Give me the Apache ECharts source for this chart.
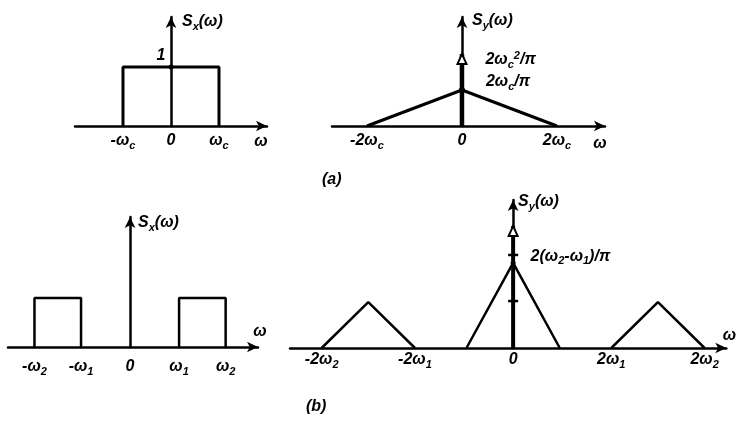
<!DOCTYPE html>
<html>
<head>
<meta charset="utf-8">
<script src="https://cdn.jsdelivr.net/npm/echarts@6/dist/echarts.min.js"></script>
<style>
  html, body { margin: 0; padding: 0; background: #fff; }
  #c { width: 737px; height: 422px; }
</style>
</head>
<body>
<div id="c"></div>
<script>
// (a) ideal low-pass input spectrum and output spectrum (ωc = 2)
const rectA = [[-2, 0], [-2, 1], [2, 1], [2, 0]];
const levelA = [[0, 1]];
const triA = [[-4, 0], [0, 1.273], [4, 0]];
const peakA = [[0, 1.273]];
const impulseA = [[0, 0], [0, 2.546]];
const ticksAL = [-2, 0, 2];
const labelsAL = ['{t|-ω}{b|c}', '{t|0}', '{t|ω}{b|c}'];
const ticksAR = [-4, 0, 4];
const labelsAR = ['{t|-2ω}{b|c}', '{t|0}', '{t|2ω}{b|c}'];

// (b) band-pass input spectrum and output spectrum (ω1 = 1, ω2 = 1.95)
const rectBneg = [[-1.95, 0], [-1.95, 1], [-1, 1], [-1, 0]];
const rectBpos = [[1, 0], [1, 1], [1.95, 1], [1.95, 0]];
const triBneg = [[-3.9, 0], [-2.95, 0.327], [-2, 0]];
const triBmid = [[-0.95, 0], [0, 0.605], [0.95, 0]];
const triBpos = [[2, 0], [2.95, 0.327], [3.9, 0]];
const peakB = [[0, 0.605]];
const impulseB = [[0, 0], [0, 0.868]];
const marksB = [[0, 0.662], [0, 0.334]];
const ticksBL = [-1.95, -1, 0, 1, 1.95];
const labelsBL = ['{t|-ω}{b|2}', '{t|-ω}{b|1}', '{t|0}', '{t|ω}{b|1}', '{t|ω}{b|2}'];
const ticksBR = [-3.9, -2, 0, 2, 3.9];
const labelsBR = ['{t|-2ω}{b|2}', '{t|-2ω}{b|1}', '{t|0}', '{t|2ω}{b|1}', '{t|2ω}{b|2}'];

const FONT = 'Liberation Sans';
const rich = {
  t: { fontFamily: FONT, fontSize: 16, fontWeight: 'bold', fontStyle: 'italic', color: '#000', lineHeight: 20 },
  b: { fontFamily: FONT, fontSize: 11, fontWeight: 'bold', fontStyle: 'italic', color: '#000', lineHeight: 11, verticalAlign: 'bottom' },
  p: { fontFamily: FONT, fontSize: 11, fontWeight: 'bold', fontStyle: 'italic', color: '#000', lineHeight: 11, verticalAlign: 'top' }
};

const axisLine = { onZero: true, symbol: ['none', 'arrow'], symbolSize: [8, 11], lineStyle: { color: '#000', width: 2.5 } };

function xAxis(gi, min, max, ticks, labels, margin, name) {
  return {
    type: 'value', gridIndex: gi, min: min, max: max,
    splitLine: { show: false }, axisTick: { show: false },
    axisLine: axisLine,
    axisLabel: {
      customValues: ticks, margin: margin, rich: rich,
      formatter: function (v) {
        const i = ticks.findIndex(function (t) { return Math.abs(t - v) < 1e-9; });
        return i >= 0 ? labels[i] : '';
      }
    },
    name: '{t|ω}', nameLocation: 'end', nameGap: name.gap,
    nameTextStyle: { rich: rich, align: 'center', verticalAlign: name.va, padding: name.pad }
  };
}

function yAxis(gi, max, sub, gap, padLeft) {
  return {
    type: 'value', gridIndex: gi, min: 0, max: max,
    splitLine: { show: false }, axisTick: { show: false },
    axisLine: axisLine,
    axisLabel: { show: false },
    name: '{t|S}{b|' + sub + '}{t|(ω)}', nameLocation: 'end', nameGap: gap,
    nameTextStyle: { rich: rich, align: 'left', verticalAlign: 'middle', padding: [0, 0, 0, padLeft] }
  };
}

function line(gi, data, w) {
  return {
    type: 'line', xAxisIndex: gi, yAxisIndex: gi, data: data, symbol: 'none',
    lineStyle: { color: '#000', width: w }, silent: true, z: 3
  };
}

function point(gi, data, symbol, size, color, z, label) {
  const s = {
    type: 'scatter', xAxisIndex: gi, yAxisIndex: gi, data: data,
    symbol: symbol, symbolSize: size,
    itemStyle: { color: color, opacity: 1 }, silent: true, z: z
  };
  if (label) {
    s.label = Object.assign({ show: true, color: '#000', rich: rich }, label);
  }
  return s;
}

function impulseTip(gi, data) {
  return {
    type: 'scatter', xAxisIndex: gi, yAxisIndex: gi, data: [data[1]],
    symbol: 'triangle', symbolSize: [9, 10], symbolOffset: [0, 5],
    itemStyle: { color: '#fff', borderColor: '#000', borderWidth: 2, opacity: 1 }, silent: true, z: 6
  };
}

const option = {
  animation: false,
  backgroundColor: '#fff',
  grid: [
    { left: 75, top: 17, width: 192, height: 109 },
    { left: 332, top: 17, width: 273, height: 109 },
    { left: 8, top: 217, width: 250, height: 130 },
    { left: 290, top: 200, width: 440, height: 148 }
  ],
  xAxis: [
    xAxis(0, -4, 4, ticksAL, labelsAL, 5, { gap: -6, va: 'top', pad: [6, 0, 0, 0] }),
    xAxis(1, -5.47, 6.02, ticksAR, labelsAR, 5, { gap: -5, va: 'top', pad: [8, 0, 0, 0] }),
    xAxis(2, -2.49, 2.61, ticksBL, labelsBL, 10, { gap: 2, va: 'bottom', pad: [0, 0, 5, 0] }),
    xAxis(3, -4.545, 4.343, ticksBR, labelsBR, 2, { gap: 3, va: 'bottom', pad: [0, 0, 2, 0] })
  ],
  yAxis: [
    yAxis(0, 1.85, 'x', -5, 11),
    yAxis(1, 3.855, 'y', -4, 10),
    yAxis(2, 2.65, 'x', -6, 8),
    yAxis(3, 1.053, 'y', -2, 5)
  ],
  series: [
    line(0, rectA, 3),
    point(0, levelA, 'circle', 5, '#000', 7,
      { position: 'left', distance: 3, offset: [0, -11], formatter: '{t|1}' }),

    line(1, triA, 3),
    line(1, impulseA, 4.5),
    impulseTip(1, impulseA),
    point(1, [impulseA[1]], 'circle', 1, 'rgba(0,0,0,0)', 7,
      { position: 'right', offset: [18, 6], formatter: '{t|2ω}{b|c}{p|2}{t|/π}' }),
    point(1, peakA, 'circle', 6, '#000', 7,
      { position: 'right', offset: [16, -8], formatter: '{t|2ω}{b|c}{t|/π}' }),

    line(2, rectBneg, 2.5),
    line(2, rectBpos, 2.5),

    line(3, triBneg, 2.5),
    line(3, triBmid, 2.5),
    line(3, triBpos, 2.5),
    line(3, impulseB, 4),
    impulseTip(3, impulseB),
    point(3, marksB, 'rect', [10, 2.5], '#000', 7),
    point(3, peakB, 'circle', 5, '#000', 7,
      { position: 'right', offset: [10, -6], formatter: '{t|2(ω}{b|2}{t|-ω}{b|1}{t|)/π}' })
  ],
  graphic: [
    { type: 'text', left: 322, top: 172, style: { text: '(a)', font: 'italic bold 16px "Liberation Sans"', fill: '#000' } },
    { type: 'text', left: 306, top: 399, style: { text: '(b)', font: 'italic bold 16px "Liberation Sans"', fill: '#000' } }
  ]
};

const chart = echarts.init(document.getElementById('c'), null, { renderer: 'canvas' });
chart.setOption(option);
</script>
</body>
</html>
